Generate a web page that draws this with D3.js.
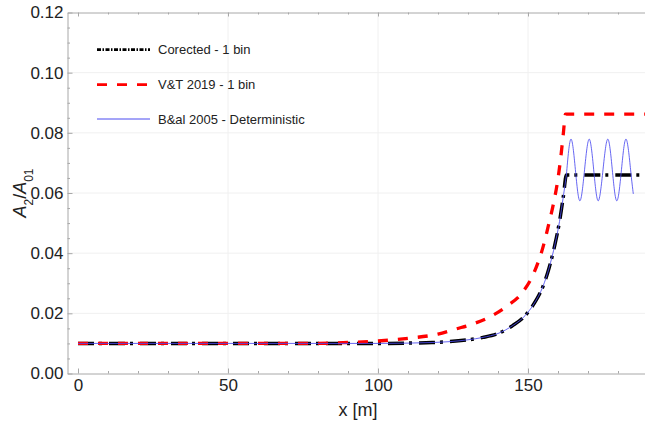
<!DOCTYPE html>
<html>
<head>
<meta charset="utf-8">
<script src="https://cdn.jsdelivr.net/npm/d3@7"></script>
<style>
  body { margin: 0; background: #fff; }
  svg { display: block; font-family: "Liberation Sans", Arial, sans-serif; }
</style>
</head>
<body>
<div id="chart"></div>
<script>
// values: [x in m, A2/A01]
const corrected = [
  [0, 0.0100], [100, 0.0100], [110, 0.0101], [118, 0.0103], [124, 0.0106],
  [130, 0.0112], [135, 0.0120], [140, 0.0133], [145, 0.0160], [149, 0.0192],
  [152, 0.0232], [155, 0.0290], [157, 0.0350], [159, 0.0430], [160.5, 0.0505],
  [161.8, 0.0590], [162.8, 0.0660], [189, 0.0660]
];
const vt2019 = [
  [0, 0.0100], [80, 0.0100], [90, 0.0103], [100, 0.0108], [110, 0.0117],
  [120, 0.0131], [126, 0.0148], [132, 0.0166], [138, 0.0192], [143, 0.0224],
  [148, 0.0268], [152, 0.0335], [155, 0.0420], [157, 0.0500], [158.5, 0.0565],
  [160, 0.0648], [161, 0.0725], [161.8, 0.0800], [162.5, 0.0862], [189, 0.0862]
];
// deterministic curve: follows the rise, then oscillates
const bal2005Rise = [
  [0, 0.0100], [100, 0.0100], [110, 0.0101], [118, 0.0103], [124, 0.0106],
  [130, 0.0112], [135, 0.0120], [140, 0.0133], [145, 0.0160], [149, 0.0192],
  [152, 0.0232], [155, 0.0290], [157, 0.0350], [159, 0.0430], [160.5, 0.0505],
  [161.8, 0.0590], [162.8, 0.0660]
];
const bal2005Wave = [
  [162.8, 0.0660], [164.3, 0.0779], [165.8, 0.0677], [167.3, 0.0574],
  [168.85, 0.0677], [170.4, 0.0779], [171.9, 0.0677], [173.4, 0.0574],
  [175.0, 0.0677], [176.6, 0.0779], [178.1, 0.0677], [179.6, 0.0574],
  [181.15, 0.0677], [182.7, 0.0779], [184.2, 0.0677], [185.1, 0.0597]
];
const xTicks = [0, 50, 100, 150];
const yTicks = [0, 0.02, 0.04, 0.06, 0.08, 0.10, 0.12];
const legendLabels = ["Corected - 1 bin", "V&T 2019 - 1 bin", "B&al 2005 - Deterministic"];

const W = 645, H = 427;
const mLeft = 67.5, mRight = 645, mTop = 12.5, mBottom = 373.5;
const axisColor = "#a8a8a8";

const svg = d3.select("#chart").append("svg")
  .attr("width", W)
  .attr("height", H);

const x = d3.scaleLinear().domain([-3.5, 189]).range([mLeft, mRight]);
const y = d3.scaleLinear().domain([0, 0.12]).range([mBottom, mTop]);

// faint grid
svg.append("g")
  .selectAll("line")
  .data(yTicks.slice(1, -1))
  .join("line")
  .attr("x1", mLeft).attr("x2", mRight)
  .attr("y1", d => y(d)).attr("y2", d => y(d))
  .attr("stroke", "#f0f0f0");
svg.append("g")
  .selectAll("line")
  .data(xTicks.slice(1))
  .join("line")
  .attr("x1", d => x(d)).attr("x2", d => x(d))
  .attr("y1", mTop).attr("y2", mBottom)
  .attr("stroke", "#f0f0f0");

// minor ticks
const xMinor = d3.range(10, 190, 10).filter(v => v % 50 !== 0);
const yMinor = d3.range(0.005, 0.12, 0.005).filter(v => Math.abs(v / 0.02 - Math.round(v / 0.02)) > 1e-6);

function styleAxis(g) {
  g.select(".domain").attr("stroke", axisColor);
  g.selectAll(".tick line").attr("stroke", axisColor);
  g.selectAll(".tick text")
    .attr("fill", "#222")
    .style("font-size", "17px")
    .style("font-family", "'Liberation Sans', Arial, sans-serif");
}

svg.append("g")
  .attr("transform", `translate(0,${mBottom})`)
  .call(d3.axisBottom(x).tickValues(xTicks).tickFormat(d3.format("d"))
    .tickSize(-5).tickSizeOuter(0).tickPadding(5))
  .call(styleAxis);
svg.append("g")
  .attr("transform", `translate(0,${mBottom})`)
  .call(d3.axisBottom(x).tickValues(xMinor).tickFormat("").tickSize(-2.5).tickSizeOuter(0))
  .call(g => g.select(".domain").remove())
  .call(styleAxis);

svg.append("g")
  .attr("transform", `translate(0,${mTop})`)
  .call(d3.axisTop(x).tickValues(xTicks).tickFormat("").tickSize(-4).tickSizeOuter(0))
  .call(styleAxis);
svg.append("g")
  .attr("transform", `translate(0,${mTop})`)
  .call(d3.axisTop(x).tickValues(xMinor).tickFormat("").tickSize(-2).tickSizeOuter(0))
  .call(g => g.select(".domain").remove())
  .call(styleAxis);

svg.append("g")
  .attr("transform", `translate(${mLeft},0)`)
  .call(d3.axisLeft(y).tickValues(yTicks).tickFormat(d3.format(".2f"))
    .tickSize(-5).tickSizeOuter(0).tickPadding(4))
  .call(styleAxis);
svg.append("g")
  .attr("transform", `translate(${mLeft},0)`)
  .call(d3.axisLeft(y).tickValues(yMinor).tickFormat("").tickSize(-2.5).tickSizeOuter(0))
  .call(g => g.select(".domain").remove())
  .call(styleAxis);

// curves
svg.append("clipPath").attr("id", "plotclip")
  .append("rect")
  .attr("x", mLeft).attr("y", mTop)
  .attr("width", mRight - mLeft).attr("height", mBottom - mTop);

const plot = svg.append("g").attr("clip-path", "url(#plotclip)");

const lineMono = d3.line()
  .x(d => x(d[0])).y(d => y(d[1]))
  .curve(d3.curveMonotoneX);
const lineWave = d3.line()
  .x(d => x(d[0])).y(d => y(d[1]))
  .curve(d3.curveNatural);

plot.append("path")
  .attr("d", lineMono(corrected))
  .attr("fill", "none")
  .attr("stroke", "#000")
  .attr("stroke-width", 3.5)
  .attr("stroke-dasharray", "16,5,3,7");

plot.append("path")
  .attr("d", lineMono(vt2019))
  .attr("fill", "none")
  .attr("stroke", "#ff0000")
  .attr("stroke-width", 3.3)
  .attr("stroke-dasharray", "10,10");

plot.append("path")
  .attr("d", lineMono(bal2005Rise))
  .attr("fill", "none")
  .attr("stroke", "#4b4bf0")
  .attr("stroke-opacity", 0.85)
  .attr("stroke-width", 1);
plot.append("path")
  .attr("d", lineWave(bal2005Wave))
  .attr("fill", "none")
  .attr("stroke", "#4b4bf0")
  .attr("stroke-opacity", 0.85)
  .attr("stroke-width", 1);

// legend
const legendStyles = [
  { stroke: "#000", width: 2.8, dash: "4,1.5,1.5,1.5" },
  { stroke: "#ff0000", width: 2.8, dash: "10,10" },
  { stroke: "#4b4bf0", width: 1, dash: null }
];
const legendY = [49.7, 84.7, 119];
const leg = svg.append("g")
  .selectAll("g")
  .data(legendLabels)
  .join("g")
  .attr("transform", (d, i) => `translate(0,${legendY[i]})`);
leg.append("line")
  .attr("x1", 97).attr("x2", 150)
  .attr("stroke", (d, i) => legendStyles[i].stroke)
  .attr("stroke-width", (d, i) => legendStyles[i].width)
  .attr("stroke-dasharray", (d, i) => legendStyles[i].dash);
leg.append("text")
  .attr("x", 158)
  .attr("y", 4.6)
  .attr("fill", "#222")
  .style("font-size", "13px")
  .text(d => d);

// axis titles
const yTitle = svg.append("text")
  .attr("transform", "translate(25.5,193) rotate(-90)")
  .attr("text-anchor", "middle")
  .attr("fill", "#222")
  .style("font-size", "18px");
yTitle.append("tspan").style("font-style", "italic").text("A");
yTitle.append("tspan").attr("baseline-shift", "sub").style("font-size", "12px").text("2");
yTitle.append("tspan").text("/");
yTitle.append("tspan").style("font-style", "italic").text("A");
yTitle.append("tspan").attr("baseline-shift", "sub").style("font-size", "12px").text("01");

svg.append("text")
  .attr("x", 358)
  .attr("y", 416)
  .attr("text-anchor", "middle")
  .attr("fill", "#222")
  .style("font-size", "18px")
  .text("x [m]");
</script>
</body>
</html>
